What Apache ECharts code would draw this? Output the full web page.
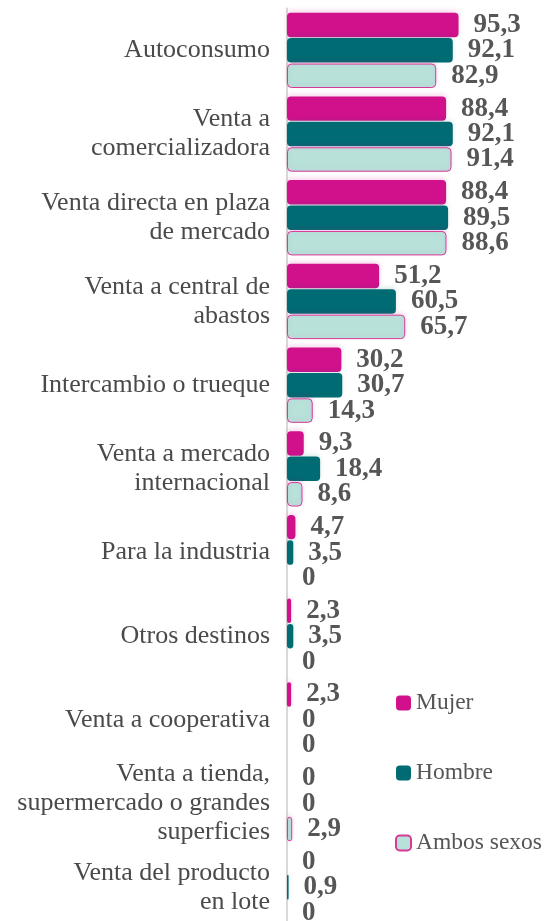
<!DOCTYPE html>
<html>
<head>
<meta charset="utf-8">
<script src="https://cdn.jsdelivr.net/npm/echarts@6/dist/echarts.min.js"></script>
<style>
  html, body { margin: 0; padding: 0; background: #fff; }
  #chart { width: 545px; height: 921px; }
</style>
</head>
<body>
<div id="chart"></div>
<script>
// categorías (de arriba a abajo)
const categorias = [
  "Autoconsumo",
  "Venta a\ncomercializadora",
  "Venta directa en plaza\nde mercado",
  "Venta a central de\nabastos",
  "Intercambio o trueque",
  "Venta a mercado\ninternacional",
  "Para la industria",
  "Otros destinos",
  "Venta a cooperativa",
  "Venta a tienda,\nsupermercado o grandes\nsuperficies",
  "Venta del producto\nen lote"
];
const mujer  = [95.3, 88.4, 88.4, 51.2, 30.2, 9.3, 4.7, 2.3, 2.3, 0, 0];
const hombre = [92.1, 92.1, 89.5, 60.5, 30.7, 18.4, 3.5, 3.5, 0, 0, 0.9];
const ambos  = [82.9, 91.4, 88.6, 65.7, 14.3, 8.6, 0, 0, 0, 2.9, 0];

const serif = "Liberation Serif";

// etiqueta de valor con coma decimal
const valueLabel = {
  show: true,
  position: "right",
  distance: 15,
  fontFamily: serif,
  fontWeight: "bold",
  fontSize: 27,
  color: "#565656",
  formatter: (p) => String(p.value).replace(".", ",")
};

// los ceros no dibujan borde ni sombra
const sinCero = (arr) => arr.map((v) =>
  v === 0 ? { value: 0, itemStyle: { borderWidth: 0, shadowBlur: 0 } } : v
);

const myChart = echarts.init(document.getElementById("chart"));

const option = {
  animation: false,
  grid: {
    left: 287,
    right: 78,
    top: 8.5,
    height: 920.7,
    outerBoundsMode: "none",
    containLabel: false
  },
  legend: {
    orient: "vertical",
    left: 390,
    top: 686,
    itemWidth: 15,
    itemHeight: 15,
    itemGap: 46,
    icon: "roundRect",
    textStyle: {
      fontFamily: serif,
      fontSize: 23.5,
      color: "#555"
    },
    data: ["Mujer", "Hombre", "Ambos sexos"]
  },
  xAxis: {
    type: "value",
    min: 0,
    max: 100,
    show: false
  },
  yAxis: {
    type: "category",
    inverse: true,
    data: categorias,
    axisLine: { show: true, lineStyle: { color: "#d9d9d9", width: 2 } },
    axisTick: { show: false },
    axisLabel: {
      margin: 17,
      fontFamily: serif,
      fontSize: 26,
      lineHeight: 29,
      color: "#4a4a4a",
      align: "right"
    }
  },
  series: [
    {
      name: "Mujer",
      type: "bar",
      data: sinCero(mujer),
      barCategoryGap: "10%",
      barGap: "4%",
      itemStyle: {
        color: "#D1108C",
        borderRadius: 4,
        shadowColor: "rgba(209,16,140,0.18)",
        shadowBlur: 5,
        shadowOffsetY: -2
      },
      label: valueLabel
    },
    {
      name: "Hombre",
      type: "bar",
      data: sinCero(hombre),
      barCategoryGap: "10%",
      barGap: "4%",
      itemStyle: {
        color: "#006B73",
        borderRadius: 4,
        shadowColor: "rgba(0,107,115,0.15)",
        shadowBlur: 5,
        shadowOffsetY: -2
      },
      label: valueLabel
    },
    {
      name: "Ambos sexos",
      type: "bar",
      data: sinCero(ambos),
      barCategoryGap: "10%",
      barGap: "4%",
      itemStyle: {
        color: "#B8E1DA",
        borderColor: "#D63A96",
        borderWidth: 1,
        borderRadius: 4,
        shadowColor: "rgba(209,16,140,0.15)",
        shadowBlur: 5,
        shadowOffsetY: -2
      },
      label: valueLabel
    }
  ]
};

option && myChart.setOption(option);
</script>
</body>
</html>
